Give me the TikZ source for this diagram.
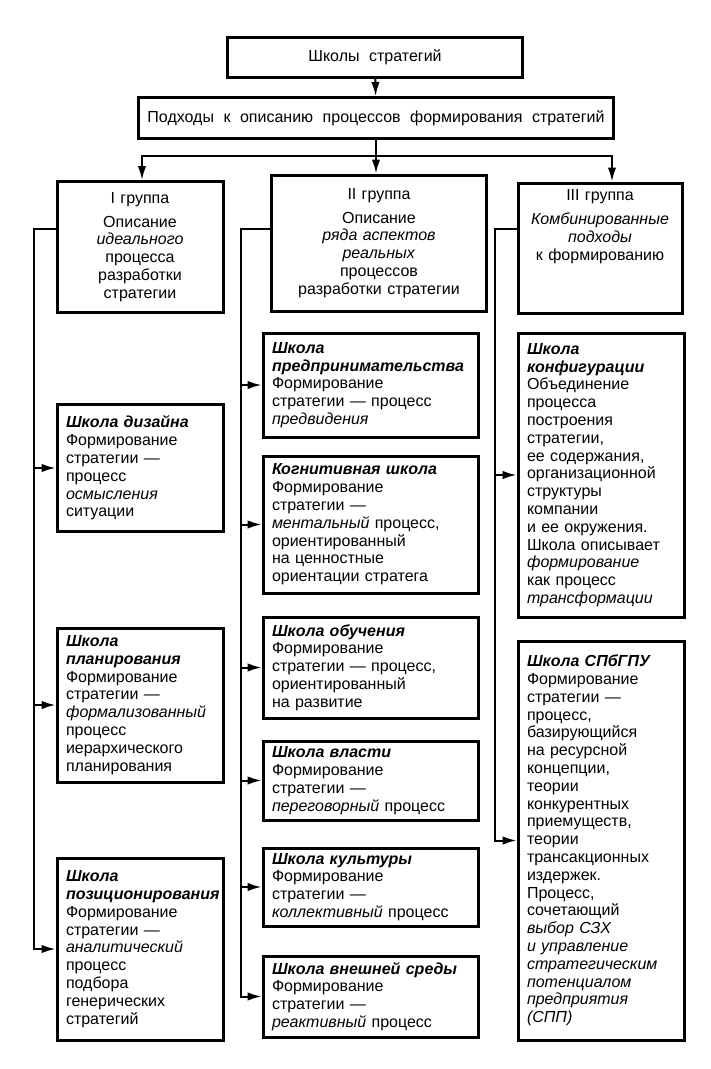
\documentclass[tikz,border=0pt]{standalone}
\usepackage{fontspec}
\setmainfont{Liberation Sans}
\usetikzlibrary{arrows.meta,positioning,calc}

\newcommand{\sname}[1]{\textbf{\textit{#1}}}
\newcommand{\boxfont}{\fontsize{16}{17.8}\selectfont\spaceskip=9.5pt plus 2pt minus 1pt\relax}

\begin{document}
\begin{tikzpicture}[x=1pt,y=-1pt,
  box/.style={draw, line width=3pt, inner xsep=9pt, inner ysep=3pt, font=\boxfont},
  head/.style={box, align=center},
  grp/.style={box, align=center, text width=#1},
  school/.style={box, align=left, text width=#1},
  line/.style={line width=2pt},
  arr/.style={line, -{Latex[length=14pt,width=8.5pt]}}
]
\useasboundingbox (0,0) rectangle (711,1069);

% top levels
\node[head, minimum width=295pt, minimum height=40pt] (top) at (375,57) {Школы стратегий};
\node[head, minimum width=474pt, minimum height=41pt] (appr) at (376,118)
  {Подходы к описанию процессов формирования стратегий};

% groups
\node[grp=148pt, minimum height=131pt] (g1) at (140,247)
  {I группа\\[6pt] Описание\\ \textit{идеального}\\ процесса\\ разработки\\ стратегии};
\node[grp=197pt, minimum height=136pt] (g2) at (379,243)
  {II группа\\[6pt] Описание\\ \textit{ряда аспектов}\\ \textit{реальных}\\ процессов\\ разработки стратегии};
\node[grp=146pt, minimum height=130pt] (g3) at (600,248)
  {III группа\\[6pt] \textit{Комбинированные}\\ \textit{подходы}\\ к формированию\\[28pt]\mbox{}};

% I group schools
\node[school=148pt, minimum height=127pt] (design) at (140,468)
  {\sname{Школа дизайна}\\ Формирование\\ стратегии ---\\ процесс\\ \textit{осмысления}\\ ситуации};
\node[school=148pt, minimum height=154pt] (plan) at (140,705)
  {\sname{Школа}\\ \sname{планирования}\\ Формирование\\ стратегии ---\\ \textit{формализованный}\\ процесс\\ иерархического\\ планирования};
\node[school=148pt, minimum height=182pt] (pos) at (140,949)
  {\sname{Школа}\\ \sname{позиционирования}\\ Формирование\\ стратегии ---\\ \textit{аналитический}\\ процесс\\ подбора\\ генерических\\ стратегий};

% II group schools
\node[school=197pt, minimum height=104pt] (entre) at (370.5,385)
  {\sname{Школа}\\ \sname{предпринимательства}\\ Формирование\\ стратегии --- процесс\\ \textit{предвидения}};
\node[school=197pt, minimum height=137pt] (cog) at (370.5,524.5)
  {\sname{Когнитивная школа}\\ Формирование\\ стратегии ---\\ \textit{ментальный} процесс,\\ ориентированный\\ на ценностные\\ ориентации стратега};
\node[school=197pt, minimum height=101pt] (learn) at (370.5,667.5)
  {\sname{Школа обучения}\\ Формирование\\ стратегии --- процесс,\\ ориентированный\\ на развитие};
\node[school=197pt, minimum height=79pt] (power) at (370.5,780.5)
  {\sname{Школа власти}\\ Формирование\\ стратегии ---\\ \textit{переговорный} процесс};
\node[school=197pt, minimum height=78pt] (cult) at (370.5,887)
  {\sname{Школа культуры}\\ Формирование\\ стратегии ---\\ \textit{коллективный} процесс};
\node[school=197pt, minimum height=81pt] (ext) at (370.5,996.5)
  {\sname{Школа внешней среды}\\ Формирование\\ стратегии ---\\ \textit{реактивный} процесс};

% III group schools
\node[school=148pt, minimum height=284pt] (konf) at (601,475)
  {\sname{Школа}\\ \sname{конфигурации}\\ Объединение\\ процесса\\ построения\\ стратегии,\\ ее содержания,\\ организационной\\ структуры\\ компании\\ и ее окружения.\\ Школа описывает\\ \textit{формирование}\\ как процесс\\ \textit{трансформации}};
\node[school=148pt, minimum height=399pt] (spb) at (601,840.5)
  {\sname{Школа СПбГПУ}\\ Формирование\\ стратегии ---\\ процесс,\\ базирующийся\\ на ресурсной\\ концепции,\\ теории\\ конкурентных\\ приемуществ,\\ теории\\ трансакционных\\ издержек.\\ Процесс,\\ сочетающий\\ \textit{выбор СЗХ}\\ \textit{и управление}\\ \textit{стратегическим}\\ \textit{потенциалом}\\ \textit{предприятия}\\ \textit{(СПП)}};

% connectors from the top
\coordinate (hub) at (376,156);
\draw[arr] (top) -- (appr);
\draw[line] (appr.south -| hub) -- (hub);
\draw[arr] (hub) -| ([xshift=2pt]g1.north);
\draw[arr] (hub) -- (hub |- g2.north);
\draw[arr] (hub) -| ([xshift=12pt]g3.north);

% buses
\coordinate (lbus) at (34,229);
\coordinate (mbus) at (241,229);
\coordinate (rbus) at (495,229);
\draw[arr] (lbus -| g1.west) -- (lbus) |- (pos.west);
\foreach \n in {design,plan}
  \draw[arr] (lbus |- \n.west) -- (\n.west);
\draw[arr] (mbus -| g2.west) -- (mbus) |- (ext.west);
\foreach \n in {entre,cog,learn,power,cult}
  \draw[arr] (mbus |- \n.west) -- (\n.west);
\draw[arr] (rbus -| g3.west) -- (rbus) |- (spb.west);
\draw[arr] (rbus |- konf.west) -- (konf.west);
\end{tikzpicture}
\end{document}
